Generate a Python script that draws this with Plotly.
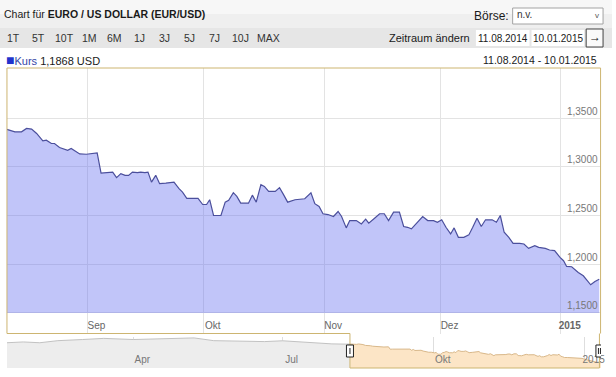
import plotly.graph_objects as go
import pandas as pd

W, H = 616, 377
FONT = "Liberation Sans, Arial, sans-serif"

# ---------------- data ----------------
START = "2014-08-11"
# days since START (fractional) for each reading of the EUR/USD close
day_offsets = [0.2, 2.3, 4.0, 5.3, 6.6, 7.9, 9.5, 10.4, 11.7, 12.5,
               13.8, 15.1, 15.9, 16.8, 17.6, 19.0, 20.7, 23.5, 24.5, 25.8,
               27.5, 28.5, 29.6, 30.7, 31.6, 32.6, 33.9, 34.7, 35.8, 36.6,
               37.5, 38.6, 39.6, 41.2, 43.3, 44.6, 45.5, 46.6, 48.0, 49.5,
               50.7, 51.7, 52.5, 53.5, 55.4, 56.5, 57.4, 58.6, 59.5, 60.5,
               62.5, 63.5, 64.5, 65.7, 66.6, 67.7, 69.4, 70.5, 71.5, 72.6,
               74.5, 76.2, 77.0, 78.6, 79.6, 80.7, 81.7, 83.0, 84.4, 85.6,
               86.5, 87.7, 88.6, 90.3, 91.6, 92.7, 93.5, 95.0, 96.3, 97.5,
               98.6, 99.9, 101.4, 102.5, 103.5, 104.5, 105.9, 107.4, 108.7, 110.2,
               111.2, 112.3, 113.4, 114.6, 115.5, 116.6, 118.0, 119.3, 120.3, 121.4,
               122.5, 123.6, 125.3, 126.4, 127.4, 128.4, 129.6, 130.7, 132.4, 133.5,
               134.7, 136.3, 137.3, 139.0, 140.1, 141.4, 142.8, 143.7, 144.5, 145.8,
               147.5, 148.8, 150.7, 151.8, 152.9]
kurs = [1.3384, 1.3359, 1.3359, 1.3394, 1.3387, 1.3342, 1.3266, 1.3273, 1.3239, 1.3239,
        1.3198, 1.3180, 1.3170, 1.3188, 1.3170, 1.3132, 1.3129, 1.3142, 1.2936, 1.2943,
        1.2946, 1.2889, 1.2930, 1.2912, 1.2912, 1.2946, 1.2940, 1.2946, 1.2940, 1.2946,
        1.2843, 1.2912, 1.2827, 1.2833, 1.2843, 1.2775, 1.2740, 1.2675, 1.2672, 1.2675,
        1.2613, 1.2613, 1.2662, 1.2500, 1.2500, 1.2637, 1.2655, 1.2734, 1.2696, 1.2627,
        1.2627, 1.2709, 1.2637, 1.2817, 1.2799, 1.2747, 1.2747, 1.2786, 1.2717, 1.2637,
        1.2662, 1.2665, 1.2672, 1.2734, 1.2621, 1.2593, 1.2518, 1.2510, 1.2490, 1.2541,
        1.2490, 1.2373, 1.2448, 1.2448, 1.2414, 1.2462, 1.2421, 1.2472, 1.2518, 1.2518,
        1.2448, 1.2534, 1.2534, 1.2387, 1.2379, 1.2363, 1.2425, 1.2490, 1.2448, 1.2448,
        1.2431, 1.2456, 1.2379, 1.2311, 1.2373, 1.2276, 1.2276, 1.2301, 1.2379, 1.2472,
        1.2387, 1.2456, 1.2456, 1.2431, 1.2500, 1.2328, 1.2276, 1.2214, 1.2214, 1.2208,
        1.2163, 1.2191, 1.2173, 1.2163, 1.2146, 1.2139, 1.2070, 1.2036, 1.1977, 1.1974,
        1.1916, 1.1881, 1.1789, 1.1823, 1.1845]
LAST_TEXT = "1,1868 USD"
PERIOD_TEXT = "11.08.2014 - 10.01.2015"
FILL_BASE = 1.15
Y_RANGE = [1.1289, 1.4014]
Y_TICKS = [1.15, 1.20, 1.25, 1.30, 1.35]
X_RANGE = ["2014-08-11 06:00", "2015-01-11 06:00"]
X_TICKS = ["2014-09-01", "2014-10-01", "2014-11-01", "2014-12-01", "2015-01-01"]
X_TICKTEXT = ["Sep", "Okt", "Nov", "Dez", "<b>2015</b>"]

# navigator: earlier part of the year
nav_dates_early = ["2014-01-14", "2014-01-24", "2014-02-03", "2014-02-14", "2014-03-01",
                   "2014-03-14", "2014-04-01", "2014-04-15", "2014-05-01", "2014-05-08",
                   "2014-05-20", "2014-06-05", "2014-06-20", "2014-07-01", "2014-07-15",
                   "2014-07-31", "2014-08-08"]
nav_values_early = [1.350, 1.357, 1.350, 1.368, 1.378, 1.388, 1.378, 1.382, 1.386, 1.392,
                    1.368, 1.362, 1.360, 1.367, 1.352, 1.340, 1.338]
NAV_RANGE = ["2014-01-14", "2015-01-11"]
NAV_Y_RANGE = [1.13, 1.40]
NAV_TICKS = ["2014-04-01", "2014-07-01", "2014-10-01", "2015-01-01"]
NAV_TICKTEXT = ["Apr", "Jul", "Okt", "2015"]
SEL_START, SEL_END = "2014-08-11", "2015-01-10"

PERIODS = ["1T", "5T", "10T", "1M", "6M", "1J", "3J", "5J", "7J", "10J", "MAX"]
PERIOD_X = [6, 31, 54, 82, 107, 134, 159, 184, 209, 233, 258]

# ---------------- helpers ----------------
def fx(p):
    return p / W


def fy(p):
    return 1 - p / H


dates = pd.Timestamp(START) + pd.to_timedelta(day_offsets, unit="D")

fig = go.Figure()
fig.add_trace(go.Scatter(x=dates, y=[FILL_BASE] * len(kurs), mode="lines",
                         line=dict(width=0, color="rgba(0,0,0,0)"),
                         hoverinfo="skip", showlegend=False))
fig.add_trace(go.Scatter(x=dates, y=kurs, mode="lines", fill="tonexty",
                         fillcolor="rgba(100,110,240,0.40)",
                         line=dict(color="#4b4f9c", width=1.2),
                         name="Kurs", showlegend=False))

nav_early_x = list(pd.to_datetime(nav_dates_early)) + [dates[0]]
nav_early_y = nav_values_early + [kurs[0]]
fig.add_trace(go.Scatter(x=nav_early_x, y=nav_early_y, mode="lines", fill="tozeroy",
                         fillcolor="#ededed", line=dict(color="#c2c2c2", width=1),
                         xaxis="x2", yaxis="y2", showlegend=False, hoverinfo="skip"))
fig.add_trace(go.Scatter(x=dates, y=kurs, mode="lines", fill="tozeroy",
                         fillcolor="#fce5c6", line=dict(color="#d9b88a", width=1),
                         xaxis="x2", yaxis="y2", showlegend=False, hoverinfo="skip"))

shapes = []
# header backgrounds
shapes.append(dict(type="rect", xref="paper", yref="paper", x0=0, x1=1, y0=fy(14), y1=fy(0),
                   fillcolor="#f7f7f7", line=dict(width=0), layer="below"))
shapes.append(dict(type="rect", xref="paper", yref="paper", x0=0, x1=1, y0=fy(28), y1=fy(14),
                   fillcolor="#efefef", line=dict(width=0), layer="below"))
shapes.append(dict(type="rect", xref="paper", yref="paper", x0=0, x1=1, y0=fy(48), y1=fy(28),
                   fillcolor="#e6e6e6", line=dict(width=0), layer="below"))
# dropdown
shapes.append(dict(type="rect", xref="paper", yref="paper", x0=fx(516), x1=fx(607),
                   y0=fy(24), y1=fy(8), fillcolor="white", line=dict(color="#a3a3a3", width=1)))
# date boxes
shapes.append(dict(type="rect", xref="paper", yref="paper", x0=fx(479), x1=fx(533),
                   y0=fy(46), y1=fy(30), fillcolor="white", line=dict(width=0)))
shapes.append(dict(type="rect", xref="paper", yref="paper", x0=fx(535), x1=fx(588),
                   y0=fy(46), y1=fy(30), fillcolor="white", line=dict(width=0)))
# arrow button
shapes.append(dict(type="rect", xref="paper", yref="paper", x0=fx(590), x1=fx(607),
                   y0=fy(47), y1=fy(29), fillcolor="#fafafa", line=dict(color="#444", width=1)))
# chart frame (top, left, right, bottom-left part)
FRAME = "#cdb571"
shapes.append(dict(type="line", xref="paper", yref="paper", x0=fx(7), x1=fx(604.5),
                   y0=fy(68), y1=fy(68), line=dict(color=FRAME, width=1)))
shapes.append(dict(type="line", xref="paper", yref="paper", x0=fx(7), x1=fx(7),
                   y0=fy(68), y1=fy(333.5), line=dict(color=FRAME, width=1)))
shapes.append(dict(type="line", xref="paper", yref="paper", x0=fx(604.5), x1=fx(604.5),
                   y0=fy(68), y1=fy(333.5), line=dict(color=FRAME, width=1)))
shapes.append(dict(type="line", xref="x2", yref="paper", x0=NAV_RANGE[0], x1=SEL_START,
                   y0=fy(333.5), y1=fy(333.5), line=dict(color=FRAME, width=1)))
# navigator outline around the selection
shapes.append(dict(type="line", xref="x2", yref="paper", x0=SEL_START, x1=SEL_START,
                   y0=fy(333.5), y1=fy(368), line=dict(color=FRAME, width=1)))
shapes.append(dict(type="line", xref="x2", yref="paper", x0=SEL_START, x1=SEL_END,
                   y0=fy(368), y1=fy(368), line=dict(color=FRAME, width=1)))
shapes.append(dict(type="line", xref="x2", yref="paper", x0=SEL_END, x1=SEL_END,
                   y0=fy(368), y1=fy(333.5), line=dict(color=FRAME, width=1)))
# handles
for anchor, bars in ((SEL_START, [0]), (SEL_END, [-1, 1])):
    shapes.append(dict(type="rect", xref="x2", yref="paper", xsizemode="pixel",
                       xanchor=anchor, x0=-3.5, x1=3.5, y0=fy(357), y1=fy(345),
                       fillcolor="white", line=dict(color="#222", width=1)))
    for b in bars:
        shapes.append(dict(type="line", xref="x2", yref="paper", xsizemode="pixel",
                           xanchor=anchor, x0=b, x1=b, y0=fy(354), y1=fy(348),
                           line=dict(color="#222", width=1)))

ann = []


def text(x, y, s, size=11, color="#222", anchor="left"):
    ann.append(dict(x=fx(x), y=fy(y), xref="paper", yref="paper", text=s, showarrow=False,
                    xanchor=anchor, yanchor="middle",
                    font=dict(family=FONT, size=size, color=color)))


text(2, 14, "Chart für <b>EURO / US DOLLAR (EUR/USD)</b>", size=10.5, color="#1a1a1a")
text(514, 16, "Börse:", size=12, color="#1a1a1a", anchor="right")
text(518, 15, "n.v.", size=10, color="#333")
text(601, 16, "v", size=8, color="#555", anchor="center")
for p, xx in zip(PERIODS, PERIOD_X):
    text(xx - 1, 38, p, size=10.5, color="#333")
text(475, 38, "Zeitraum ändern", size=11, color="#1a1a1a", anchor="right")
text(506, 38, "11.08.2014", size=10, color="#1a1a1a", anchor="center")
text(561.5, 38, "10.01.2015", size=10, color="#1a1a1a", anchor="center")
text(598.5, 37.5, "→", size=12, color="#111", anchor="center")
text(4, 60, "<span style='color:#2233cc;font-size:14px'>■</span><span style='color:#3444a6'>Kurs</span> "
     + LAST_TEXT, size=11, color="#1a1a1a")
text(603, 60, PERIOD_TEXT, size=10.5, color="#1a1a1a", anchor="right")

fig.update_layout(
    width=W, height=H, margin=dict(l=0, r=0, t=0, b=0),
    paper_bgcolor="white", plot_bgcolor="rgba(0,0,0,0)",
    separators=",.", showlegend=False,
    font=dict(family=FONT, size=10, color="#666"),
    shapes=shapes, annotations=ann,
    xaxis=dict(domain=[fx(7), fx(604.5)], anchor="y", type="date", range=X_RANGE,
               tickmode="array", tickvals=X_TICKS, ticktext=X_TICKTEXT,
               ticklabelposition="inside", ticklabelshift=9, ticks="",
               showgrid=True, gridcolor="#e3e3e3", gridwidth=1, zeroline=False,
               showline=False, tickfont=dict(size=10, color="#666"), fixedrange=True),
    yaxis=dict(domain=[fy(333.5), fy(68)], anchor="x", range=Y_RANGE, side="right",
               tickmode="array", tickvals=Y_TICKS, tickformat=".4f",
               ticklabelposition="inside top", ticks="", showgrid=True,
               gridcolor="#e3e3e3", zeroline=False, showline=False,
               tickfont=dict(size=10, color="#777"), fixedrange=True),
    xaxis2=dict(domain=[fx(7), fx(605)], anchor="y2", type="date", range=NAV_RANGE,
                tickmode="array", tickvals=NAV_TICKS, ticktext=NAV_TICKTEXT,
                ticklabelposition="inside", ticklabelshift=9, ticklabeloverflow="allow",
                ticks="", showgrid=True, gridcolor="#dedede", zeroline=False,
                showline=False, tickfont=dict(size=10, color="#777"), fixedrange=True),
    yaxis2=dict(domain=[fy(368), fy(337)], anchor="x2", range=NAV_Y_RANGE,
                showgrid=False, showticklabels=False, zeroline=False, ticks="",
                fixedrange=True),
)

fig.write_html("out.html")
